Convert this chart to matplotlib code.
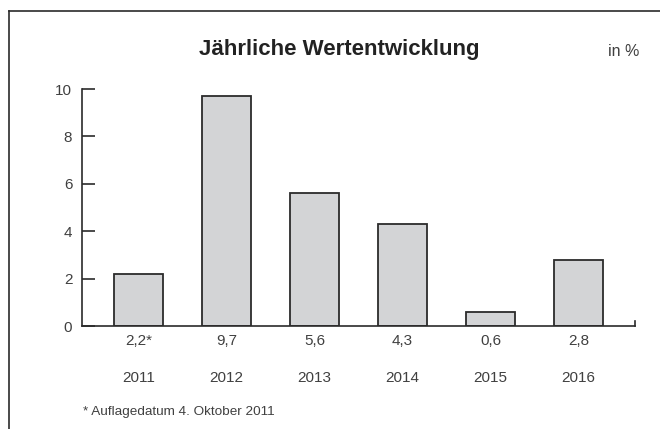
import matplotlib
matplotlib.use("Agg")
import matplotlib.pyplot as plt
from matplotlib.lines import Line2D

plt.rcParams['font.family'] = ['Liberation Sans', 'DejaVu Sans']

years = ["2011", "2012", "2013", "2014", "2015", "2016"]
values = [2.2, 9.7, 5.6, 4.3, 0.6, 2.8]
value_labels = ["2,2*", "9,7", "5,6", "4,3", "0,6", "2,8"]
yticks = [0, 2, 4, 6, 8, 10]

txt = "#404040"
dark = "#2b2b2b"

fig = plt.figure(figsize=(6.6, 4.29), dpi=100)
ax = fig.add_axes([82 / 660, 1 - 326 / 429, (635 - 82) / 660, (326 - 89) / 429])

x = list(range(len(years)))
ax.bar(x, values, width=0.557, color="#d3d4d6", edgecolor=dark, linewidth=1.3, zorder=2)

ax.set_xlim(-0.64, 5.64)
ax.set_ylim(0, 10)
ax.set_yticks(yticks)
ax.set_yticklabels([str(t) for t in yticks], fontsize=11, color=txt)
ax.tick_params(axis="y", direction="in", length=9.4, width=1.2, color=dark, pad=7)
ax.set_xticks([])

for s in ["top", "right"]:
    ax.spines[s].set_visible(False)
for s in ["left", "bottom"]:
    ax.spines[s].set_color(dark)
    ax.spines[s].set_linewidth(1.2)

# little end tick on the right of the x axis
xr = ax.get_xlim()[1]
ax.plot([xr, xr], [0, 0.22], color=dark, lw=1.2, clip_on=False, zorder=3)

for xi, vl, yr in zip(x, value_labels, years):
    ax.annotate(vl, (xi, 0), xytext=(0, -11), textcoords="offset points",
                ha="center", va="center", fontsize=11, color=txt)
    ax.annotate(yr, (xi, 0), xytext=(0, -37.5), textcoords="offset points",
                ha="center", va="center", fontsize=11, color=txt)

fig.text(339 / 660, 1 - 49 / 429, "Jährliche Wertentwicklung", ha="center", va="center",
         fontsize=16, fontweight="bold", color="#222222")
fig.text(608 / 660, 1 - 51 / 429, "in %", ha="left", va="center", fontsize=11.5, color=txt)
fig.text(83 / 660, 1 - 412 / 429, "* Auflagedatum 4. Oktober 2011", ha="left", va="center",
         fontsize=9.7, color=txt)

# frame lines (left + top)
fig.add_artist(Line2D([9 / 660, 9 / 660], [0, 1 - 11 / 429], transform=fig.transFigure,
                      color=dark, lw=1.2))
fig.add_artist(Line2D([9 / 660, 1], [1 - 11 / 429, 1 - 11 / 429], transform=fig.transFigure,
                      color=dark, lw=1.2))

fig.savefig("out.png", dpi=100)
